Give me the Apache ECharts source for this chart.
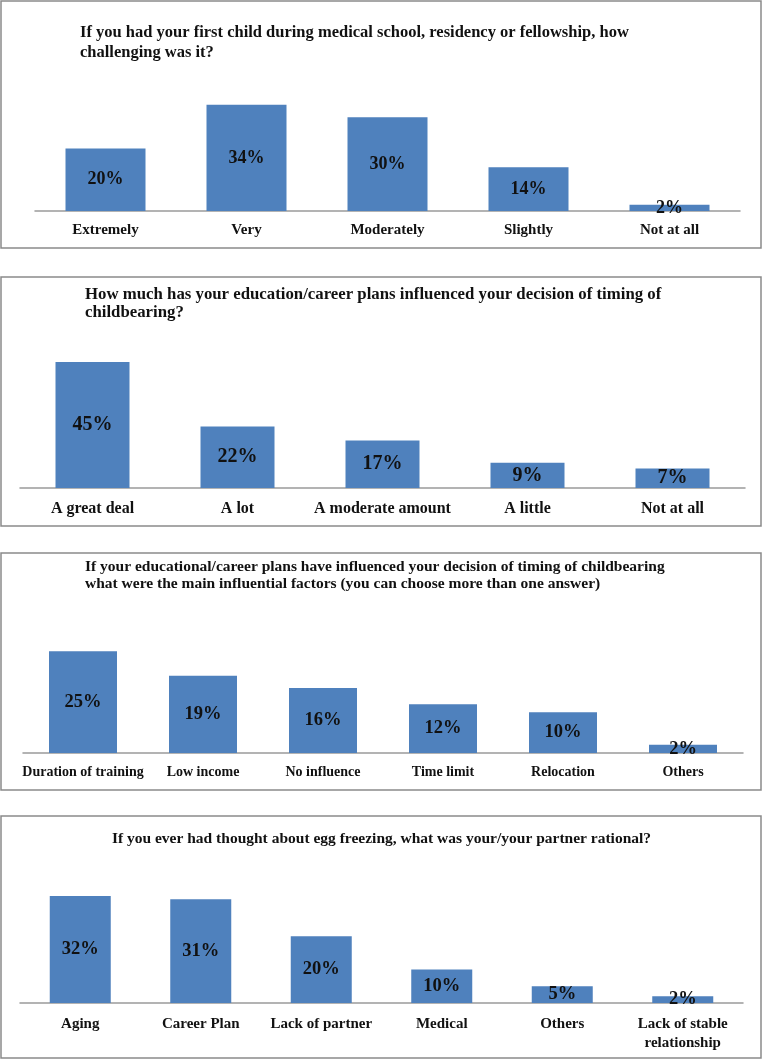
<!DOCTYPE html>
<html>
<head>
<meta charset="utf-8">
<script src="https://cdn.jsdelivr.net/npm/echarts@6/dist/echarts.min.js"></script>
<style>
  html, body { margin: 0; padding: 0; background: #fff; }
  #chart { width: 763px; height: 1060px; }
</style>
</head>
<body>
<div id="chart"></div>
<script>
// survey answers, one pair of arrays per panel
const cats1 = ['Extremely', 'Very', 'Moderately', 'Slightly', 'Not at all'];
const vals1 = [20, 34, 30, 14, 2];

const cats2 = ['A great deal', 'A lot', 'A moderate amount', 'A little', 'Not at all'];
const vals2 = [45, 22, 17, 9, 7];

const cats3 = ['Duration of training', 'Low income', 'No influence', 'Time limit', 'Relocation', 'Others'];
const vals3 = [25, 19, 16, 12, 10, 2];

const cats4 = ['Aging', 'Career Plan', 'Lack of partner', 'Medical', 'Others', 'Lack of stable\nrelationship'];
const vals4 = [32, 31, 20, 10, 5, 2];

const titles = [
    'If you had your first child during medical school, residency or fellowship, how\nchallenging was it?',
    'How much has your education/career plans influenced your decision of timing of\nchildbearing?',
    'If your educational/career plans have influenced your decision of timing of childbearing\nwhat were the main influential factors (you can choose more than one answer)',
    'If you ever had thought about egg freezing, what was your/your partner rational?'
];

const FONT = '"Liberation Serif", "Times New Roman", serif';
const BAR = '#4f81bd';

// panel layout (pixels)
const panels = [
    { box: [1, 1, 760, 247], grid: { left: 35, top: 86, width: 705, height: 125 }, max: 40, barW: 80,
      title: { left: 80, top: 23, size: 16.5, lh: 20 }, catSize: 15, valSize: 18, margin: 10 },
    { box: [1, 277, 760, 249], grid: { left: 20, top: 348, width: 725, height: 140 }, max: 50, barW: 74,
      title: { left: 85, top: 286, size: 16.8, lh: 18 }, catSize: 16, valSize: 20, margin: 11 },
    { box: [1, 553, 760, 237], grid: { left: 23, top: 631, width: 720, height: 122 }, max: 30, barW: 68,
      title: { left: 85, top: 558, size: 15.5, lh: 17 }, catSize: 14, valSize: 18.5, margin: 10 },
    { box: [1, 816, 760, 242], grid: { left: 20, top: 886, width: 723, height: 117 }, max: 35, barW: 61,
      title: { left: 'center', top: 830, size: 15.5, lh: 18 }, catSize: 15, valSize: 18.5, margin: 12 }
];

const catsList = [cats1, cats2, cats3, cats4];
const valsList = [vals1, vals2, vals3, vals4];

const chart = echarts.init(document.getElementById('chart'), null, { renderer: 'canvas' });

const option = {
    backgroundColor: '#fff',
    animation: false,
    title: panels.map((p, i) => ({
        text: titles[i],
        left: p.title.left,
        top: p.title.top,
        padding: 0,
        textStyle: {
            fontFamily: FONT,
            fontWeight: 'bold',
            fontSize: p.title.size,
            lineHeight: p.title.lh,
            color: '#111'
        }
    })),
    grid: panels.map(p => ({ ...p.grid, containLabel: false })),
    xAxis: panels.map((p, i) => ({
        type: 'category',
        gridIndex: i,
        data: catsList[i],
        axisLine: { lineStyle: { color: '#9a9a9a', width: 1.5 } },
        axisTick: { show: false },
        axisLabel: {
            interval: 0,
            margin: p.margin,
            fontFamily: FONT,
            fontWeight: 'bold',
            fontSize: p.catSize,
            lineHeight: 19,
            color: '#111'
        }
    })),
    yAxis: panels.map((p, i) => ({
        type: 'value',
        gridIndex: i,
        min: 0,
        max: p.max,
        show: false,
        splitLine: { show: false }
    })),
    series: panels.map((p, i) => ({
        type: 'bar',
        xAxisIndex: i,
        yAxisIndex: i,
        data: valsList[i],
        barWidth: p.barW,
        itemStyle: { color: BAR },
        label: {
            show: true,
            position: 'inside',
            formatter: '{c}%',
            fontFamily: FONT,
            fontWeight: 'bold',
            fontSize: p.valSize,
            color: '#111'
        }
    })),
    graphic: panels.map(p => ({
        type: 'rect',
        silent: true,
        z: -1,
        shape: { x: p.box[0], y: p.box[1], width: p.box[2], height: p.box[3] },
        style: { fill: null, stroke: '#8a8a8a', lineWidth: 1.5 }
    }))
};

chart.setOption(option);
</script>
</body>
</html>
